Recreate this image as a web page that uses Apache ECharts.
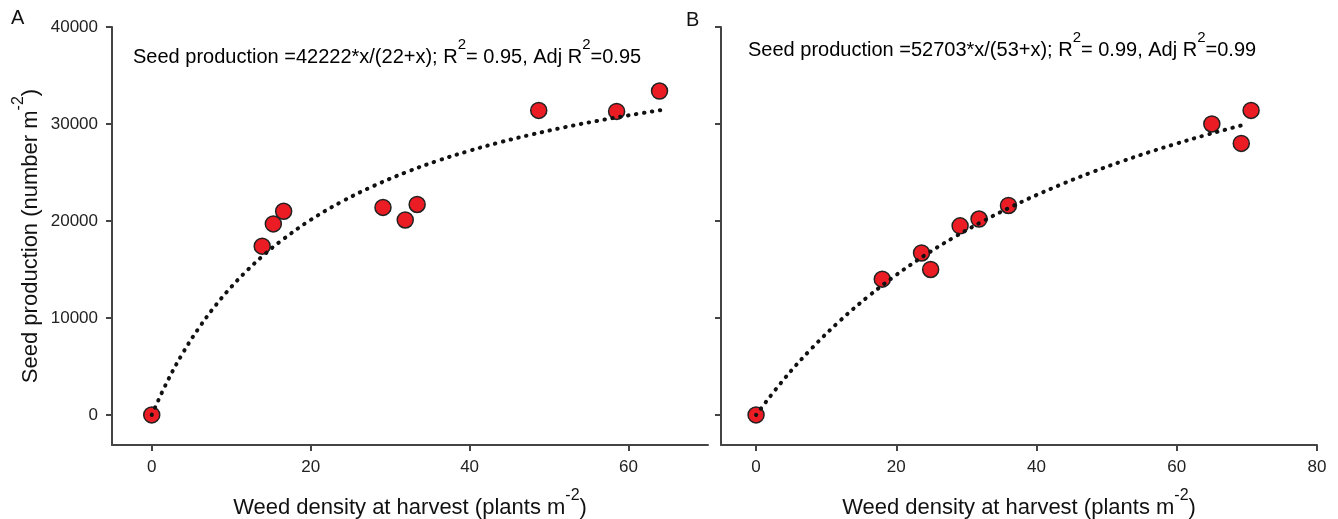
<!DOCTYPE html>
<html>
<head>
<meta charset="utf-8">
<script src="https://cdn.jsdelivr.net/npm/echarts@6/dist/echarts.min.js"></script>
<style>
  html, body { margin: 0; padding: 0; background: #fff; }
  #chart { width: 1338px; height: 519px; }
</style>
</head>
<body>
<div id="chart"></div>
<script>
// panel A: observed points
const densityA = [0, 13.9, 15.3, 16.6, 29.1, 31.9, 33.4, 48.7, 58.5, 63.9];
const seedA = [0, 17400, 19700, 21000, 21400, 20100, 21700, 31400, 31300, 33400];
// panel A: fitted curve
const fitXA = [0, 2, 4, 6, 8, 10, 12, 14, 16, 20, 24, 28, 32, 36, 40, 44, 48, 52, 56, 60, 64];
const fitYA = [0, 3520, 6500, 9050, 11260, 13190, 14900, 16420, 17780, 20110, 22030, 23640, 25020, 26210, 27240, 28150, 28950, 29670, 30310, 30890, 31420];

// panel B: observed points
const densityB = [0, 18.0, 23.6, 24.9, 29.1, 31.8, 36.0, 65.0, 69.2, 70.6];
const seedB = [0, 14000, 16700, 15000, 19500, 20200, 21600, 30000, 28000, 31400];
// panel B: fitted curve
const fitXB = [0, 4, 8, 12, 16, 20, 24, 28, 32, 36, 40, 44, 48, 52, 56, 60, 64, 68, 70];
const fitYB = [0, 3700, 6910, 9730, 12220, 14440, 16430, 18220, 19840, 21320, 22670, 23910, 25050, 26100, 27080, 27980, 28830, 29620, 29990];

// ticks
const xTicksA = [0, 20, 40, 60];
const xTicksB = [0, 20, 40, 60, 80];
const yTicks = [0, 10000, 20000, 30000, 40000];

const FONT = 'Liberation Sans, Arial, Helvetica, sans-serif';
const RED = '#ec1c24';

const zip = (xs, ys) => xs.map((x, i) => [x, ys[i]]);

const chart = echarts.init(document.getElementById('chart'));

// rich text styles for superscripts
const eqRich = {
    n: { fontSize: 20, fontFamily: FONT, color: '#111', lineHeight: 30, verticalAlign: 'bottom' },
    s: { fontSize: 15, fontFamily: FONT, color: '#111', lineHeight: 30, verticalAlign: 'top' }
};
const nameRich = {
    n: { fontSize: 22, fontFamily: FONT, color: '#111', lineHeight: 31, verticalAlign: 'bottom' },
    s: { fontSize: 16, fontFamily: FONT, color: '#111', lineHeight: 31, verticalAlign: 'top' }
};

function xAxisOf(idx, max, ticks) {
    return {
        type: 'value',
        gridIndex: idx,
        min: -5,
        max: max,
        name: '{n|Weed density at harvest (plants m}{s|-2}{n|)}',
        nameLocation: 'middle',
        nameGap: 43,
        nameTextStyle: { rich: nameRich },
        axisLine: { show: true, onZero: false, lineStyle: { color: '#444', width: 2 } },
        axisTick: { show: true, inside: false, length: 6, customValues: ticks, lineStyle: { color: '#444', width: 2 } },
        axisLabel: { customValues: ticks, margin: 14, fontSize: 17, fontFamily: FONT, color: '#222' },
        splitLine: { show: false }
    };
}

function yAxisOf(idx, showLabels, withName) {
    return {
        type: 'value',
        gridIndex: idx,
        min: -3100,
        max: 40000,
        name: withName ? '{n|Seed production (number m}{s|-2}{n|)}' : '',
        nameLocation: 'middle',
        nameGap: 70,
        nameTextStyle: { rich: nameRich },
        axisLine: { show: true, onZero: false, lineStyle: { color: '#444', width: 2 } },
        axisTick: { show: true, inside: false, length: 6, customValues: yTicks, lineStyle: { color: '#444', width: 2 } },
        axisLabel: {
            show: showLabels, customValues: yTicks, margin: 14, fontSize: 17, fontFamily: FONT, color: '#222',
            formatter: v => String(v)
        },
        splitLine: { show: false }
    };
}

function pointsOf(idx, xs, ys) {
    return {
        type: 'scatter',
        xAxisIndex: idx,
        yAxisIndex: idx,
        data: zip(xs, ys),
        symbol: 'circle',
        symbolSize: 16,
        z: 2,
        itemStyle: { color: RED, borderColor: '#222', borderWidth: 1.5, opacity: 1 }
    };
}

function curveOf(idx, xs, ys) {
    return {
        type: 'line',
        xAxisIndex: idx,
        yAxisIndex: idx,
        data: zip(xs, ys),
        showSymbol: false,
        symbol: 'none',
        smooth: 0.4,
        z: 3,
        lineStyle: { color: '#111', width: 4, type: [0.5, 7.5], cap: 'round' }
    };
}

const option = {
    backgroundColor: '#fff',
    animation: false,
    grid: [
        { left: 112, top: 27, width: 596, height: 418, outerBoundsMode: 'none', containLabel: false },
        { left: 721, top: 27, width: 596, height: 418, outerBoundsMode: 'none', containLabel: false }
    ],
    xAxis: [xAxisOf(0, 70, xTicksA), xAxisOf(1, 80, xTicksB)],
    yAxis: [yAxisOf(0, true, true), yAxisOf(1, false, false)],
    series: [
        pointsOf(0, densityA, seedA),
        curveOf(0, fitXA, fitYA),
        pointsOf(1, densityB, seedB),
        curveOf(1, fitXB, fitYB)
    ],
    graphic: [
        { type: 'text', left: 11, top: 8, style: { text: 'A', fontSize: 20, fontFamily: FONT, fill: '#111' } },
        { type: 'text', left: 686, top: 10, style: { text: 'B', fontSize: 20, fontFamily: FONT, fill: '#111' } },
        {
            type: 'text', left: 133, top: 37,
            style: {
                text: '{n|Seed production =42222*x/(22+x); R}{s|2}{n|= 0.95, Adj R}{s|2}{n|=0.95}',
                rich: eqRich
            }
        },
        {
            type: 'text', left: 748, top: 30,
            style: {
                text: '{n|Seed production =52703*x/(53+x); R}{s|2}{n|= 0.99, Adj R}{s|2}{n|=0.99}',
                rich: eqRich
            }
        }
    ]
};

chart.setOption(option);
window.addEventListener('resize', () => {
    chart.resize();
});
</script>
</body>
</html>
